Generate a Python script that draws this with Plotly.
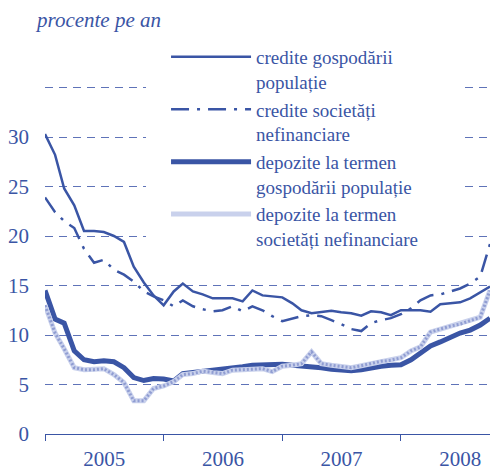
"""
Dobânzi medii la credite și depozite noi (procente pe an), 2005-2008
"""

import pandas as pd
import plotly.graph_objects as go

# Data (monthly, Jan 2005 - Oct 2008)

months = pd.date_range("2005-01-01", periods=46, freq="MS")

credite_gospodarii = [
    30.3, 28.2, 24.8, 23.1, 20.5, 20.5, 20.4, 20.0, 19.4, 16.9, 15.3, 14.0,
    13.0, 14.4, 15.2, 14.4, 14.1, 13.7, 13.7, 13.7, 13.4, 14.5, 14.0, 13.9,
    13.8, 13.2, 12.5, 12.2, 12.3, 12.45, 12.3, 12.2, 11.95, 12.4, 12.3, 12.0,
    12.5, 12.5, 12.5, 12.35, 13.1, 13.2, 13.3, 13.7, 14.3, 14.9,
]
credite_societati = [
    23.9, 22.4, 21.5, 20.8, 18.7, 17.3, 17.6, 16.6, 16.1, 15.4, 14.4, 13.9,
    13.5, 12.9, 13.5, 12.9, 12.6, 12.4, 12.5, 12.9, 12.4, 12.9, 12.5, 11.9,
    11.4, 11.7, 11.9, 12.0, 11.9, 11.5, 11.1, 10.6, 10.4, 11.2, 11.5, 11.7,
    12.1, 12.7, 13.5, 14.0, 14.1, 14.4, 14.7, 15.2, 15.9, 19.2,
]
depozite_gospodarii = [
    14.5, 11.6, 11.2, 8.4, 7.5, 7.3, 7.4, 7.3, 6.7, 5.7, 5.4, 5.6,
    5.55, 5.35, 6.1, 6.2, 6.35, 6.5, 6.5, 6.7, 6.8, 6.95, 7.0, 7.1,
    7.05, 6.95, 6.9, 6.8, 6.7, 6.55, 6.45, 6.4, 6.5, 6.7, 6.85, 6.95,
    7.0, 7.5, 8.15, 8.9, 9.3, 9.75, 10.2, 10.5, 11.0, 11.7,
]
depozite_societati = [
    13.0, 10.2, 8.6, 6.7, 6.5, 6.5, 6.6, 6.0, 5.2, 3.35, 3.35, 4.6,
    4.85, 5.3, 6.0, 6.1, 6.35, 6.2, 6.1, 6.45, 6.5, 6.6, 6.6, 6.3,
    6.85, 6.95, 7.1, 8.3, 7.1, 6.95, 6.8, 6.7, 6.9, 7.1, 7.35, 7.45,
    7.7, 8.4, 8.8, 10.3, 10.6, 10.9, 11.1, 11.45, 11.8, 14.5,
]

y_ticks = [0, 5, 10, 15, 20, 25, 30, 35, 40]
y_ticktext = ["0", "5", "10", "15", "20", "25", "30", "", ""]

BLUE = "#3a55a5"
GRID = "#5f73b8"
LIGHT = "#c9d1ec"
LIGHT_DOT = "#909dd2"
FONT = "Liberation Serif, Times New Roman, serif"

fig = go.Figure()

fig.add_trace(go.Scatter(
    x=months, y=credite_gospodarii, mode="lines",
    name="credite gospodării<br>populație",
    line=dict(color=BLUE, width=2.5),
))
fig.add_trace(go.Scatter(
    x=months, y=credite_societati, mode="lines",
    name="credite societăți<br>nefinanciare",
    line=dict(color=BLUE, width=2.5, dash="18px,8px,3px,8px"),
))
fig.add_trace(go.Scatter(
    x=months, y=depozite_gospodarii, mode="lines",
    name="depozite la termen<br>gospodării populație",
    line=dict(color=BLUE, width=5),
))
fig.add_trace(go.Scatter(
    x=months, y=depozite_societati, mode="lines",
    name="depozite la termen<br>societăți nefinanciare",
    line=dict(color=LIGHT, width=5),
))
# hatched look for the light series
fig.add_trace(go.Scatter(
    x=months, y=depozite_societati, mode="lines",
    showlegend=False, hoverinfo="skip",
    line=dict(color=LIGHT_DOT, width=3, dash="2px,2px"),
))

fig.add_annotation(
    text="<i>procente pe an</i>",
    xref="paper", yref="paper", x=0, y=1,
    xanchor="left", yanchor="middle", xshift=-12, yshift=18,
    showarrow=False, font=dict(family=FONT, size=21, color=BLUE),
)

# white panel behind the legend, hiding the grid there (no data passes here)
fig.add_shape(
    type="rect", xref="paper", yref="paper",
    x0=0.227, x1=0.939, y0=0.477, y1=0.985,
    fillcolor="white", line=dict(width=0), layer="above",
)

fig.update_layout(
    width=491, height=471,
    margin=dict(l=45, r=1, t=38, b=37, autoexpand=False),
    paper_bgcolor="white", plot_bgcolor="white",
    font=dict(family=FONT, size=21, color=BLUE),
    showlegend=True,
    legend=dict(
        x=0.272, y=1.0, xanchor="left", yanchor="top",
        bgcolor="rgba(0,0,0,0)", borderwidth=0, tracegroupgap=0,
        valign="top", itemwidth=80,
        font=dict(family=FONT, size=19, color=BLUE),
    ),
    xaxis=dict(
        range=["2005-01-01", "2008-10-01"],
        tick0="2005-01-01", dtick="M12", tickformat="%Y",
        ticklabelmode="period",
        ticks="outside", ticklen=6, tickcolor=BLUE,
        showline=True, linecolor=BLUE, linewidth=1,
        showgrid=False, zeroline=False,
        automargin=False, ticklabelstandoff=0,
    ),
    yaxis=dict(
        range=[0, 40],
        tickvals=y_ticks, ticktext=y_ticktext,
        showgrid=True, gridcolor=GRID, gridwidth=1, griddash="8px,6px",
        zeroline=False, showline=False, ticks="",
        automargin=False, ticklabelstandoff=15,
    ),
)

# drop the default 8px page margin so the figure fills the window exactly
fig.write_html(
    "out.html",
    config={"displayModeBar": False},
    post_script="document.body.style.margin = '0';",
)
